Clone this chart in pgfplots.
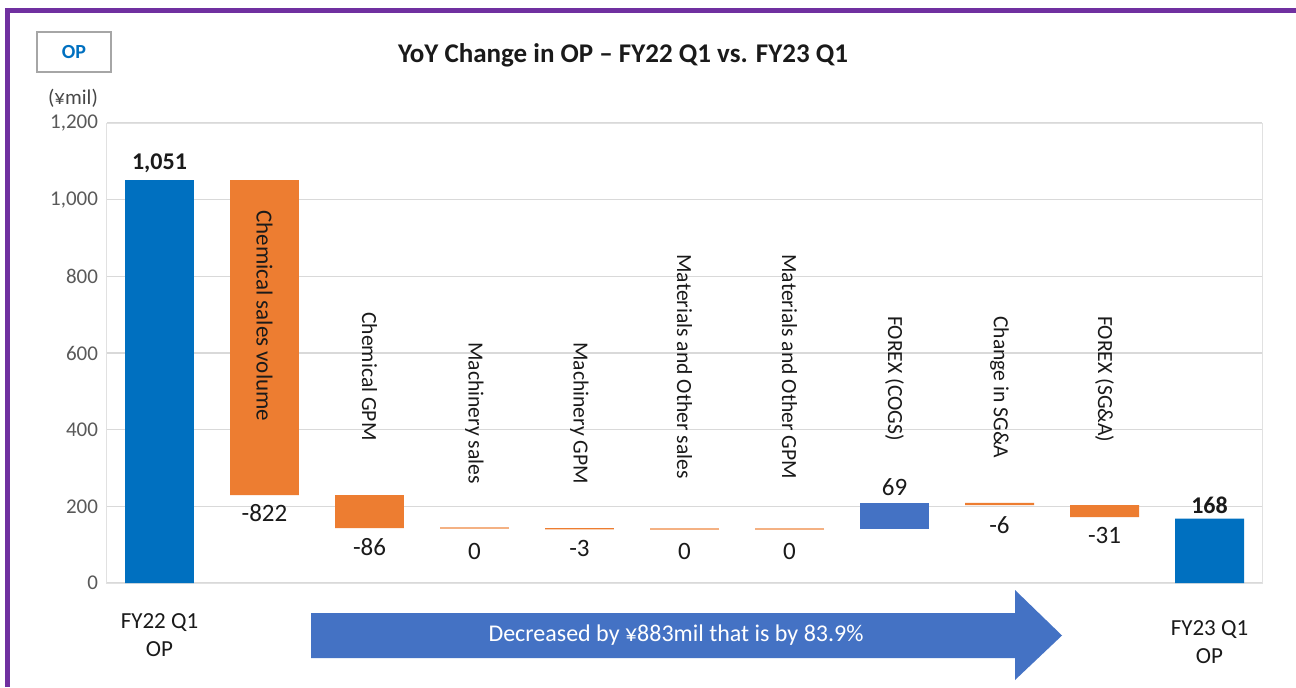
\documentclass[border=0pt]{standalone}
\usepackage{pgfplots}
\pgfplotsset{compat=1.18}
\usepackage{pgfplotstable}
\usepackage{fontspec}
\setmainfont{Carlito}

\definecolor{totblue}{HTML}{0070C0}
\definecolor{incblue}{HTML}{4472C4}
\definecolor{decorange}{HTML}{ED7D31}
\definecolor{lightorange}{HTML}{F4B183}
\definecolor{purp}{HTML}{7030A0}
\definecolor{tickgray}{HTML}{595959}
\definecolor{gridgray}{HTML}{D9D9D9}
\definecolor{txt}{HTML}{1A1A1A}

\tikzset{
  catlab/.style={rotate=-90, anchor=west, font=\fontsize{10.8}{13}\selectfont, text=txt, inner sep=0pt},
  vallab/.style={font=\fontsize{12.5}{15}\selectfont, text=txt},
  vallabb/.style={font=\fontsize{12}{14}\selectfont\bfseries, text=txt},
}

\pgfplotstableread{
x base total inc dec
0 0 1051 0 0
1 229 0 0 822
2 143 0 0 86
3 143 0 0 0
4 140 0 0 3
5 140 0 0 0
6 140 0 0 0
7 140 0 69 0
8 203 0 0 6
9 172 0 0 31
10 0 168 0 0
}\wf

\pgfplotstableread{
x y
3 143
5 140
6 140
}\zerobars

\begin{document}
\begin{tikzpicture}
\useasboundingbox (0,0) rectangle (648pt,343.5pt);
\fill[white] (0,0) rectangle (648pt,343.5pt);
% frame
\draw[purp, line width=2.5pt] (3.75pt,0) -- (3.75pt,338.25pt) -- (648pt,338.25pt);
% OP box
\draw[gray!70, line width=0.6pt] (18.5pt,307.5pt) rectangle (55.5pt,327.5pt);
\node[font=\fontsize{10}{12}\selectfont\bfseries, text=totblue] at (37pt,317.5pt) {OP};
\node[font=\fontsize{10.5}{12.6}\selectfont, text=tickgray!80!black] at (36.5pt,294.5pt) {(¥mil)};
% title
\node[font=\fontsize{13.5}{16}\selectfont\bfseries, text=txt] at (311.5pt,316pt) {YoY Change in OP – FY22 Q1 vs. FY23 Q1};

\begin{axis}[
  at={(53.5pt,52pt)}, anchor=south west,
  scale only axis, width=577.5pt, height=230pt,
  xmin=-0.5, xmax=10.5, ymin=0, ymax=1200,
  ybar stacked, bar width=0.657,
  ytick={0,200,...,1200},
  ymajorgrids, grid style={gridgray, line width=0.6pt},
  axis line style={gridgray!80, line width=0.5pt},
  major tick length=0pt,
  /pgf/number format/assume math mode=true,
  /pgf/number format/1000 sep={,},
  yticklabel style={font=\fontsize{10.5}{12.6}\selectfont, text=tickgray, xshift=-1pt},
  xtick={0}, xticklabels={FY22 Q1\\OP},
  xticklabel style={font=\fontsize{11.5}{14}\selectfont, text=txt, align=center, yshift=-12pt},
  extra x ticks={10}, extra x tick labels={FY23 Q1\\OP},
  extra x tick style={xticklabel style={yshift=-3.5pt}},
  clip=false,
]
\addplot[fill=none, draw=none] table[x=x, y=base] {\wf};
\addplot[fill=totblue, draw=none] table[x=x, y=total] {\wf};
\addplot[fill=incblue, draw=none] table[x=x, y=inc] {\wf};
\addplot[fill=decorange, draw=none] table[x=x, y=dec] {\wf};
\end{axis}

\begin{axis}[
  at={(53.5pt,52pt)}, anchor=south west,
  scale only axis, width=577.5pt, height=230pt,
  xmin=-0.5, xmax=10.5, ymin=0, ymax=1200,
  axis lines=none, ticks=none, clip=false,
]
\addplot[only marks, mark=-, mark size=17.25pt, mark options={draw=lightorange, line width=1pt}] table[x=x, y=y] {\zerobars};

\node[catlab, font=\fontsize{11.5}{13.8}\selectfont] at (axis cs:1,973) {Chemical sales volume};
\node[catlab] at (axis cs:2,707) {Chemical GPM};
\node[catlab] at (axis cs:3,629) {Machinery sales};
\node[catlab] at (axis cs:4,629) {Machinery GPM};
\node[catlab] at (axis cs:5,858) {Materials and Other sales};
\node[catlab] at (axis cs:6,858) {Materials and Other GPM};
\node[catlab] at (axis cs:7,697) {FOREX (COGS)};
\node[catlab] at (axis cs:8,697) {Change in SG\&A};
\node[catlab] at (axis cs:9,697) {FOREX (SG\&A)};

\node[vallabb] at (axis cs:0,1096) {1,051};
\node[vallab] at (axis cs:1,183) {-822};
\node[vallab] at (axis cs:2,94) {-86};
\node[vallab] at (axis cs:3,81) {0};
\node[vallab] at (axis cs:4,91) {-3};
\node[vallab] at (axis cs:5,81) {0};
\node[vallab] at (axis cs:6,81) {0};
\node[vallab] at (axis cs:7,250) {69};
\node[vallab] at (axis cs:8,151) {-6};
\node[vallab] at (axis cs:9,123) {-31};
\node[vallabb] at (axis cs:10,203) {168};
\end{axis}

% arrow
\fill[incblue] (155.5pt,37pt) -- (507.5pt,37pt) -- (507.5pt,48.5pt) -- (531pt,25.75pt) -- (507.5pt,3.5pt) -- (507.5pt,14.5pt) -- (155.5pt,14.5pt) -- cycle;
\node[font=\fontsize{12}{14}\selectfont, text=white] at (338pt,25.75pt) {Decreased by ¥883mil that is by 83.9\%};
\end{tikzpicture}
\end{document}
